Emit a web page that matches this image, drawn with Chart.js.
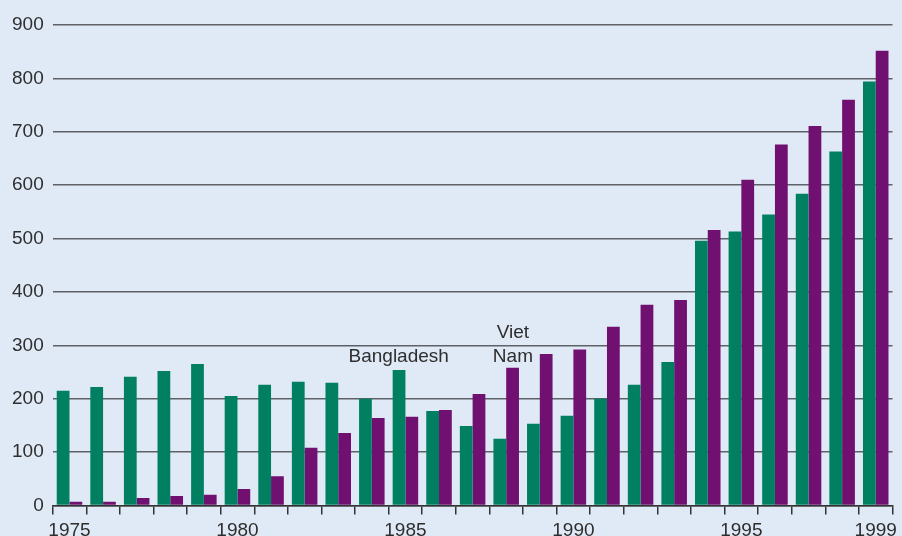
<!DOCTYPE html>
<html>
<head>
<meta charset="utf-8">
<script src="https://cdn.jsdelivr.net/npm/chart.js@4"></script>
<style>
  html, body { margin: 0; padding: 0; background: #e0eaf6; }
  #chart { display: block; }
</style>
</head>
<body>
<canvas id="chart" width="902" height="536"></canvas>
<script>
const years = ['1975', '1976', '1977', '1978', '1979', '1980', '1981', '1982', '1983', '1984',
  '1985', '1986', '1987', '1988', '1989', '1990', '1991', '1992', '1993', '1994',
  '1995', '1996', '1997', '1998', '1999'];
const bangladesh = [215, 222, 241, 252, 265, 205, 226, 232, 230, 200,
  254, 177, 149, 125, 153, 168, 200, 226, 269, 496,
  513, 545, 584, 663, 794];
const vietNam = [7, 7, 14, 18, 20, 31, 55, 108, 136, 164,
  166, 179, 209, 258, 284, 292, 335, 376, 385, 516,
  610, 676, 711, 760, 852];
const shownYears = ['1975', '1980', '1985', '1990', '1995', '1999'];

// text labels inside the plot, anchored in data units (category index, value)
const seriesNotes = [
  { text: 'Bangladesh', at: 9.8, value: 278 },
  { text: 'Viet', at: 13.2, value: 323 },
  { text: 'Nam', at: 13.2, value: 278 }
];

const notesPlugin = {
  id: 'notes',
  afterDatasetsDraw(chart) {
    const ctx = chart.ctx;
    const xs = chart.scales.x, ys = chart.scales.y;
    ctx.save();
    ctx.font = '19px "Liberation Sans", Arial, sans-serif';
    ctx.fillStyle = '#2e2e2e';
    ctx.textAlign = 'center';
    ctx.textBaseline = 'middle';
    seriesNotes.forEach(n => {
      ctx.fillText(n.text, xs.getPixelForValue(n.at), ys.getPixelForValue(n.value));
    });
    ctx.restore();
  }
};

new Chart(document.getElementById('chart'), {
  type: 'bar',
  data: {
    labels: years,
    datasets: [
      { label: 'Bangladesh', data: bangladesh, backgroundColor: '#008060',
        categoryPercentage: 0.76, barPercentage: 1.0 },
      { label: 'Viet Nam', data: vietNam, backgroundColor: '#701070',
        categoryPercentage: 0.76, barPercentage: 1.0 }
    ]
  },
  options: {
    responsive: false,
    animation: false,
    layout: { padding: { top: 25, right: 7, left: 0, bottom: 0 } },
    plugins: { legend: { display: false }, tooltip: { enabled: false } },
    scales: {
      x: {
        offset: true,
        grid: { offset: true, drawOnChartArea: false, color: '#333', tickLength: 9, lineWidth: 1.5 },
        border: { display: true, color: '#333', width: 1.5 },
        ticks: {
          autoSkip: false, maxRotation: 0, padding: 5, color: '#2e2e2e',
          font: { family: '"Liberation Sans", Arial, sans-serif', size: 19 },
          callback: function (v, i) { return shownYears.includes(years[i]) ? years[i] : ''; }
        },
        afterFit(scale) { scale.height = 30.5; }
      },
      y: {
        min: 0, max: 900,
        grid: { color: '#5e6167', lineWidth: 1.5, drawTicks: false },
        border: { display: false },
        ticks: {
          stepSize: 100, padding: 9, color: '#2e2e2e',
          font: { family: '"Liberation Sans", Arial, sans-serif', size: 19 }
        },
        afterFit(scale) { scale.width = 52.7; }
      }
    }
  },
  plugins: [notesPlugin]
});
</script>
</body>
</html>
